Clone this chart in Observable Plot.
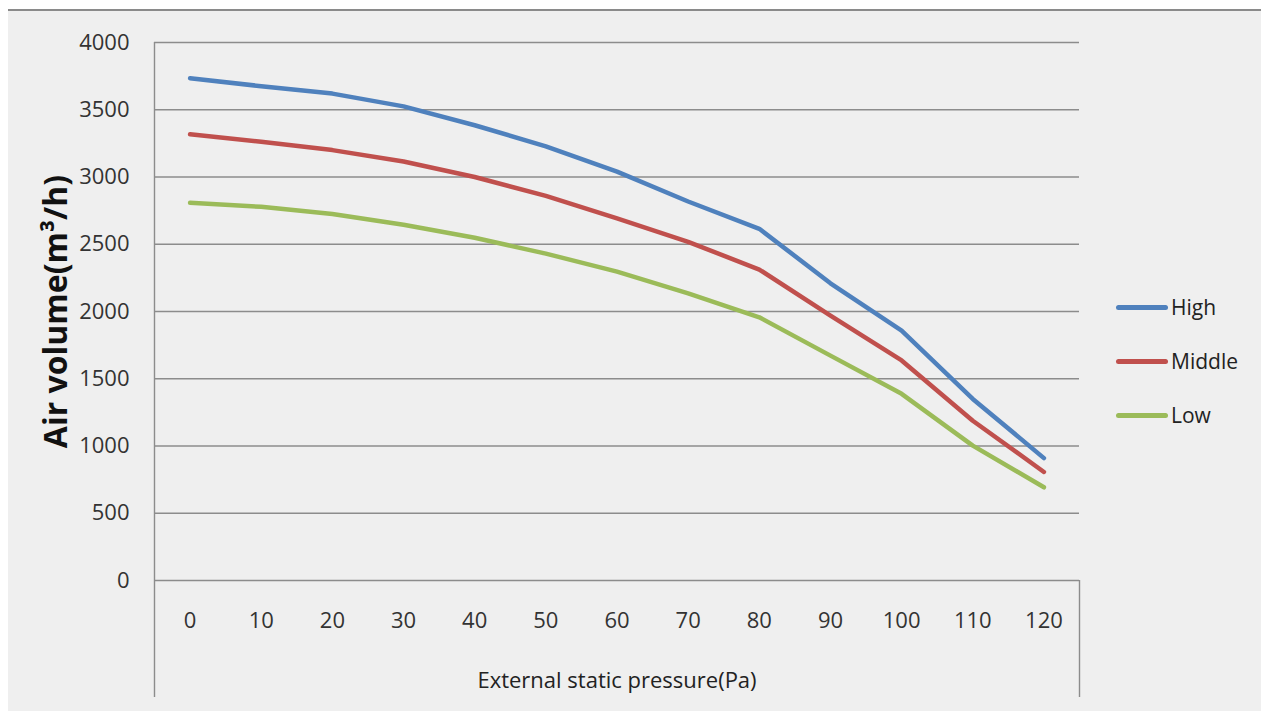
<!DOCTYPE html>
<html>
<head>
<meta charset="utf-8">
<script src="https://cdn.jsdelivr.net/npm/d3@7"></script>
<script src="https://cdn.jsdelivr.net/npm/@observablehq/plot@0.6"></script>
<style>
  html, body { margin: 0; padding: 0; background: #ffffff; width: 1261px; height: 711px; overflow: hidden; }
  #panel { position: absolute; left: 8px; top: 9px; width: 1253px; height: 700px; background: #efefef; border-top: 2px solid #8a8a8a; }
  #chart { position: absolute; left: 0; top: 0; }
  #chart g[aria-label="y-axis label"] text { font-size: 32px; font-weight: bold; fill: #111; }
  #chart g[aria-label="x-axis label"] text { font-size: 22px; fill: #222; }
  #legend { position: absolute; left: 1116px; top: 291px; font-family: "Open Sans", sans-serif; font-size: 21px; color: #222; }
  .item { display: flex; align-items: center; height: 32px; margin-bottom: 22px; }
  .swatch { width: 52px; height: 5px; border-radius: 3px; margin-right: 3px; }
</style>
</head>
<body>
<div id="panel"></div>
<div id="chart"></div>
<div id="legend"></div>
<script>
// Data
const pressure = [0, 10, 20, 30, 40, 50, 60, 70, 80, 90, 100, 110, 120];
const seriesNames = ["High", "Middle", "Low"];
const high   = [3735, 3675, 3620, 3525, 3385, 3228, 3040, 2818, 2615, 2210, 1858, 1350, 910];
const middle = [3318, 3262, 3200, 3115, 3000, 2860, 2693, 2518, 2312, 1970, 1636, 1188, 807];
const low    = [2808, 2778, 2725, 2645, 2548, 2430, 2296, 2135, 1957, 1672, 1388, 1003, 693];
const yTicks = [0, 500, 1000, 1500, 2000, 2500, 3000, 3500, 4000];
const colors = ["#4f81bd", "#c0504d", "#9bbb59"];

const seriesValues = [high, middle, low];
const rows = [];
seriesNames.forEach((name, s) => {
  pressure.forEach((p, i) => rows.push({series: name, pressure: p, volume: seriesValues[s][i]}));
});

const halfStep = (pressure[1] - pressure[0]) / 2;
const xDomain = [pressure[0] - halfStep, pressure[pressure.length - 1] + halfStep];
const gridColor = "#8c8c8c";

const plot = Plot.plot({
  width: 1261,
  height: 711,
  marginLeft: 154,
  marginRight: 182,
  marginTop: 42,
  marginBottom: 131,
  style: {background: "transparent", fontFamily: "Open Sans, sans-serif", fontSize: "22px", color: "#333", overflow: "visible"},
  x: {type: "linear", domain: xDomain},
  y: {domain: [yTicks[0], yTicks[yTicks.length - 1]]},
  color: {domain: seriesNames, range: colors},
  marks: [
    Plot.ruleY(yTicks, {stroke: gridColor, strokeWidth: 1.4}),
    Plot.ruleX([xDomain[0]], {stroke: gridColor, strokeWidth: 1.4, insetBottom: -117}),
    Plot.ruleX([xDomain[1]], {y1: 0, y2: 0, stroke: gridColor, strokeWidth: 1.4, insetBottom: -117}),
    Plot.axisY({ticks: yTicks, tickSize: 0, tickPadding: 25, tickFormat: d => String(d),
      label: "Air volume(m³/h)", labelAnchor: "center", labelOffset: 110, labelArrow: "none"}),
    Plot.axisX({ticks: pressure, tickSize: 0, tickPadding: 32, tickFormat: d => String(d),
      label: "External static pressure(Pa)", labelAnchor: "center", labelOffset: 107, labelArrow: "none"}),
    Plot.line(rows, {x: "pressure", y: "volume", z: "series", stroke: "series",
      strokeWidth: 4.5, strokeLinejoin: "round", strokeLinecap: "round"})
  ]
});
document.getElementById("chart").appendChild(plot);

const legend = document.getElementById("legend");
seriesNames.forEach((name, i) => {
  const item = document.createElement("div");
  item.className = "item";
  const sw = document.createElement("div");
  sw.className = "swatch";
  sw.style.background = colors[i];
  const label = document.createElement("span");
  label.textContent = name;
  item.appendChild(sw);
  item.appendChild(label);
  legend.appendChild(item);
});
</script>
</body>
</html>
